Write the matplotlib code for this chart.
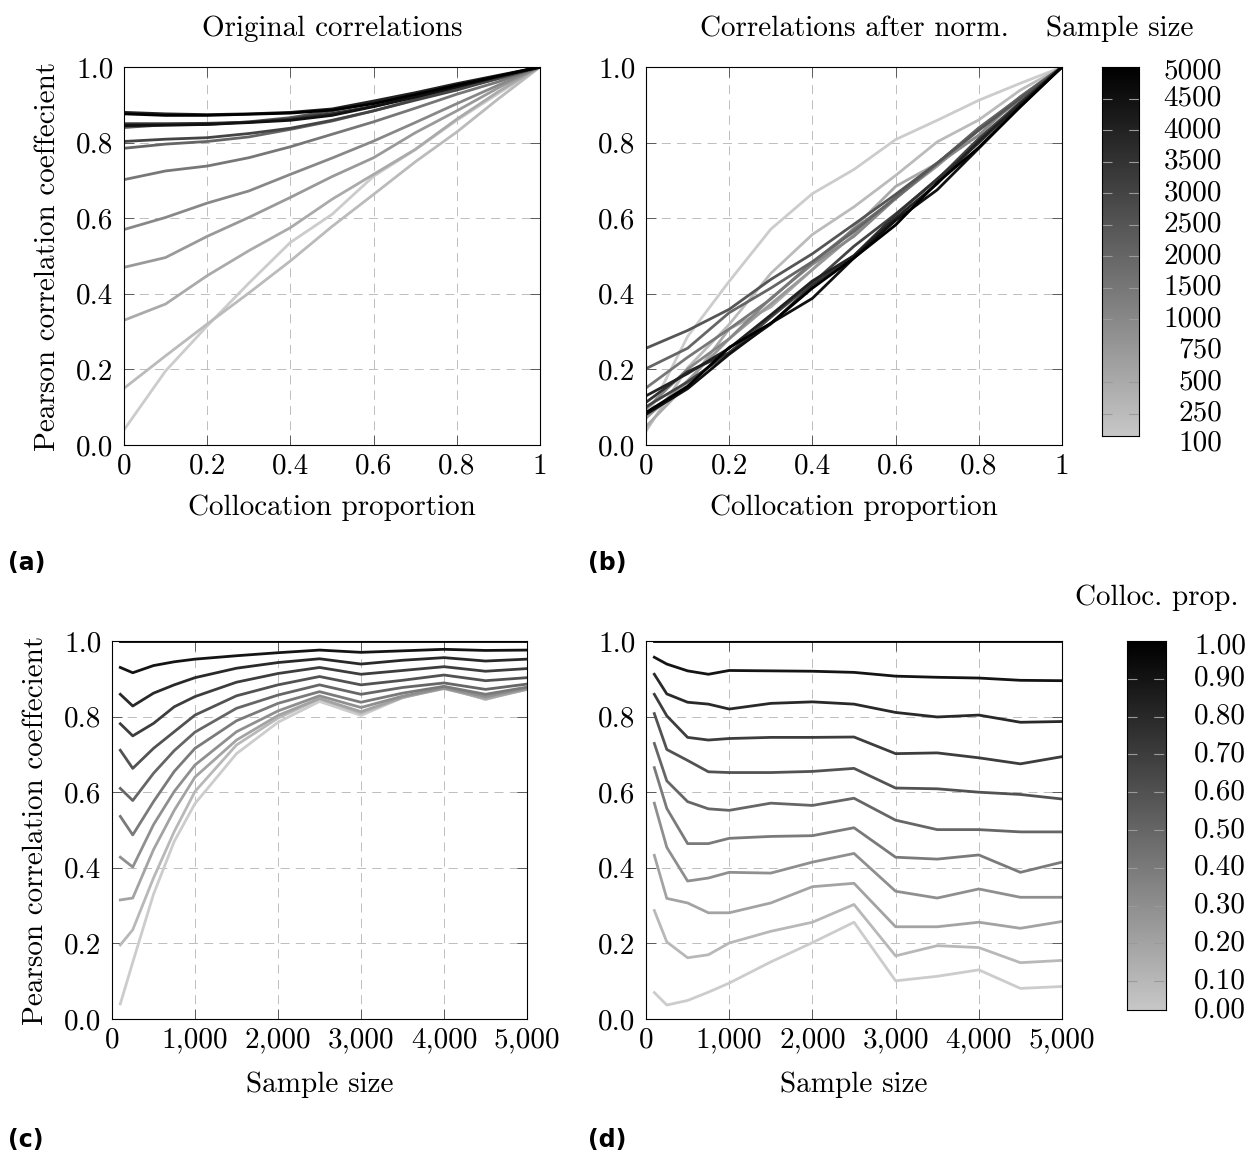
import numpy as np
import matplotlib
matplotlib.use("Agg")
import matplotlib.pyplot as plt
import matplotlib.transforms as mtransforms
from matplotlib.colors import LinearSegmentedColormap

# ---------------- data ----------------
sample_sizes = [100, 250, 500, 750, 1000, 1500, 2000, 2500, 3000, 3500, 4000, 4500, 5000]
colloc_props = [0.0, 0.1, 0.2, 0.3, 0.4, 0.5, 0.6, 0.7, 0.8, 0.9, 1.0]
sample_labels = ["100", "250", "500", "750", "1000", "1500", "2000", "2500",
                 "3000", "3500", "4000", "4500", "5000"]
prop_labels = ["0.00", "0.10", "0.20", "0.30", "0.40", "0.50",
               "0.60", "0.70", "0.80", "0.90", "1.00"]

# original correlations: one row per collocation proportion, one value per sample size
orig_p00 = [0.040, 0.150, 0.330, 0.470, 0.570, 0.702, 0.785, 0.840, 0.803, 0.850, 0.880, 0.845, 0.876]
orig_p01 = [0.196, 0.236, 0.373, 0.496, 0.602, 0.725, 0.796, 0.847, 0.809, 0.850, 0.876, 0.846, 0.872]
orig_p02 = [0.315, 0.320, 0.448, 0.552, 0.640, 0.738, 0.803, 0.848, 0.813, 0.851, 0.874, 0.848, 0.872]
orig_p03 = [0.428, 0.402, 0.514, 0.602, 0.672, 0.760, 0.815, 0.855, 0.824, 0.854, 0.876, 0.853, 0.875]
orig_p04 = [0.536, 0.487, 0.575, 0.655, 0.716, 0.789, 0.835, 0.866, 0.838, 0.862, 0.880, 0.859, 0.878]
orig_p05 = [0.610, 0.578, 0.650, 0.710, 0.759, 0.822, 0.857, 0.884, 0.859, 0.877, 0.889, 0.872, 0.886]
orig_p06 = [0.711, 0.663, 0.716, 0.760, 0.804, 0.855, 0.884, 0.906, 0.884, 0.896, 0.910, 0.895, 0.903]
orig_p07 = [0.781, 0.749, 0.782, 0.826, 0.853, 0.891, 0.914, 0.930, 0.912, 0.922, 0.932, 0.920, 0.927]
orig_p08 = [0.859, 0.828, 0.862, 0.884, 0.903, 0.928, 0.943, 0.953, 0.939, 0.949, 0.956, 0.947, 0.952]
orig_p09 = [0.930, 0.916, 0.935, 0.945, 0.952, 0.961, 0.969, 0.976, 0.970, 0.974, 0.978, 0.975, 0.976]
orig_p10 = [1.0] * 13

# correlations after normalisation
norm_p00 = [0.070, 0.037, 0.049, 0.071, 0.095, 0.151, 0.202, 0.256, 0.101, 0.113, 0.130, 0.081, 0.086]
norm_p01 = [0.287, 0.204, 0.162, 0.170, 0.201, 0.232, 0.256, 0.303, 0.167, 0.194, 0.189, 0.149, 0.155]
norm_p02 = [0.433, 0.319, 0.307, 0.281, 0.281, 0.307, 0.350, 0.359, 0.244, 0.244, 0.256, 0.240, 0.258]
norm_p03 = [0.571, 0.454, 0.365, 0.373, 0.388, 0.386, 0.415, 0.438, 0.338, 0.320, 0.344, 0.322, 0.322]
norm_p04 = [0.665, 0.557, 0.464, 0.464, 0.478, 0.483, 0.485, 0.506, 0.428, 0.423, 0.434, 0.388, 0.415]
norm_p05 = [0.729, 0.630, 0.575, 0.556, 0.552, 0.571, 0.565, 0.584, 0.526, 0.501, 0.501, 0.495, 0.495]
norm_p06 = [0.808, 0.713, 0.684, 0.654, 0.652, 0.652, 0.655, 0.663, 0.611, 0.609, 0.600, 0.594, 0.582]
norm_p07 = [0.859, 0.802, 0.745, 0.738, 0.742, 0.745, 0.745, 0.746, 0.702, 0.704, 0.691, 0.675, 0.694]
norm_p08 = [0.912, 0.860, 0.838, 0.833, 0.820, 0.835, 0.839, 0.833, 0.811, 0.799, 0.804, 0.785, 0.787]
norm_p09 = [0.957, 0.939, 0.921, 0.912, 0.922, 0.921, 0.920, 0.917, 0.907, 0.904, 0.902, 0.896, 0.895]
norm_p10 = [1.0] * 13

orig = np.array([orig_p00, orig_p01, orig_p02, orig_p03, orig_p04, orig_p05,
                 orig_p06, orig_p07, orig_p08, orig_p09, orig_p10])
norm = np.array([norm_p00, norm_p01, norm_p02, norm_p03, norm_p04, norm_p05,
                 norm_p06, norm_p07, norm_p08, norm_p09, norm_p10])

# ---------------- style ----------------
plt.rcParams["font.family"] = ["cmr10", "DejaVu Serif"]
plt.rcParams["mathtext.fontset"] = "cm"
plt.rcParams["axes.formatter.use_mathtext"] = True
plt.rcParams["axes.unicode_minus"] = False
plt.rcParams["lines.scale_dashes"] = False

FS = 21
LW = 2.0
cmap = LinearSegmentedColormap.from_list("lightgray_black", [(0.8, 0.8, 0.8), (0.0, 0.0, 0.0)])

W, H = 1252, 1153
fig = plt.figure(figsize=(W / 100, H / 100), dpi=100)


def add_ax(l, t, r, b):
    return fig.add_axes([l / W, 1 - b / H, (r - l) / W, (b - t) / H])


def style(ax):
    ax.grid(True, color="#bdbdbd", lw=0.7, linestyle=(0, (6.5, 4.5)))
    ax.set_axisbelow(True)
    ax.tick_params(direction="in", length=7, width=0.7, color="#5a5a5a",
                   top=True, right=True, labelsize=FS)
    ax.tick_params(axis="y", pad=7.5)
    ax.tick_params(axis="x", pad=6)
    for s in ax.spines.values():
        s.set_linewidth(0.8)
    ax.set_ylim(0, 1)
    ax.set_yticks([0, 0.2, 0.4, 0.6, 0.8, 1.0])
    ax.set_yticklabels(["0.0", "0.2", "0.4", "0.6", "0.8", "1.0"])


YLAB = "Pearson correlation coeffecient"

# (a)
ax_a = add_ax(124, 67, 540, 445)
for i, n in enumerate(sample_sizes):
    ax_a.plot(colloc_props, orig[:, i], color=cmap(i / (len(sample_sizes) - 1)), lw=LW)
style(ax_a)
ax_a.set_xlim(0, 1)
ax_a.set_xticks([0, 0.2, 0.4, 0.6, 0.8, 1.0])
ax_a.set_xticklabels(["0", "0.2", "0.4", "0.6", "0.8", "1"])
ax_a.set_title("Original correlations", fontsize=FS, pad=22)
ax_a.set_xlabel("Collocation proportion", fontsize=FS)
ax_a.xaxis.set_label_coords(0.5, -0.132)
ax_a.set_ylabel(YLAB, fontsize=FS)
ax_a.yaxis.set_label_coords(-0.151, 0.5)

# (b)
ax_b = add_ax(646, 67, 1062, 445)
for i, n in enumerate(sample_sizes):
    ax_b.plot(colloc_props, norm[:, i], color=cmap(i / (len(sample_sizes) - 1)), lw=LW)
style(ax_b)
ax_b.set_xlim(0, 1)
ax_b.set_xticks([0, 0.2, 0.4, 0.6, 0.8, 1.0])
ax_b.set_xticklabels(["0", "0.2", "0.4", "0.6", "0.8", "1"])
ax_b.set_title("Correlations after norm.", fontsize=FS, pad=22)
ax_b.set_xlabel("Collocation proportion", fontsize=FS)
ax_b.xaxis.set_label_coords(0.5, -0.132)

# (c)
ax_c = add_ax(112, 641, 527, 1019)
for j, p in enumerate(colloc_props):
    ax_c.plot(sample_sizes, orig[j, :], color=cmap(p), lw=LW)
style(ax_c)
ax_c.set_xlim(0, 5000)
xt = [0, 1000, 2000, 3000, 4000, 5000]
ax_c.set_xticks(xt)
ax_c.set_xticklabels([f"{v:,}" for v in xt])
ax_c.set_xlabel("Sample size", fontsize=FS)
ax_c.xaxis.set_label_coords(0.5, -0.140)
ax_c.set_ylabel(YLAB, fontsize=FS)
ax_c.yaxis.set_label_coords(-0.151, 0.5)

# (d)
ax_d = add_ax(646, 641, 1062, 1019)
for j, p in enumerate(colloc_props):
    ax_d.plot(sample_sizes, norm[j, :], color=cmap(p), lw=LW)
style(ax_d)
ax_d.set_xlim(0, 5000)
ax_d.set_xticks(xt)
ax_d.set_xticklabels([f"{v:,}" for v in xt])
ax_d.set_xlabel("Sample size", fontsize=FS)
ax_d.xaxis.set_label_coords(0.5, -0.140)


# ---------------- colorbars ----------------
def colorbar(l, t, r, b, tick_px, labels, vmax, label_right, title, title_x, title_y,
             off_top, off_bot):
    cax = add_ax(l, t, r, b)
    nint = len(labels) - 1
    step = vmax / nint
    vmin_vis = vmax - (b - t) / tick_px * step
    grad = np.linspace(0, 1, 512).reshape(-1, 1)
    cax.imshow(grad, cmap=cmap, aspect="auto", origin="lower",
               extent=[0, 1, 0, vmax], interpolation="bilinear")
    cax.set_xlim(0, 1)
    cax.set_ylim(vmin_vis, vmax)
    cax.set_xticks([])
    cax.set_yticks([])
    for s in cax.spines.values():
        s.set_linewidth(0.8)
    for k in range(1, nint):
        cax.axhline(k * step, color="#9a9a9a", lw=0.8, linestyle=(0, (7.2, 12)))
    xr = (label_right - l) / (r - l)
    base = mtransforms.blended_transform_factory(cax.transAxes, cax.transData)
    for k, lab in enumerate(labels):
        tr = base
        if k == nint:
            tr = base + mtransforms.ScaledTranslation(0, -off_top / 100, fig.dpi_scale_trans)
        elif k == 0:
            tr = base + mtransforms.ScaledTranslation(0, off_bot / 100, fig.dpi_scale_trans)
        cax.text(xr, k * step, lab, transform=tr, ha="right", va="center",
                 fontsize=FS, clip_on=False)
    fig.text(title_x / W, 1 - title_y / H, title,
             ha="center", va="baseline", fontsize=FS)
    return cax


colorbar(1102, 67, 1139, 436, 31.5, sample_labels, 12.0, 1222,
         "Sample size", 1120, 36, 4, 2)
colorbar(1127, 641, 1166, 1010, 37.8, prop_labels, 1.0, 1246,
         "Colloc. prop.", 1157, 605, 5, 9)

# ---------------- panel letters ----------------
for txt, x, y in [("(a)", 8, 563), ("(b)", 588, 563), ("(c)", 8, 1140), ("(d)", 588, 1140)]:
    fig.text(x / W, 1 - y / H, txt, ha="left", va="center", fontsize=17,
             fontweight="bold", family=["DejaVu Sans"])

fig.savefig("out.png", dpi=100)
